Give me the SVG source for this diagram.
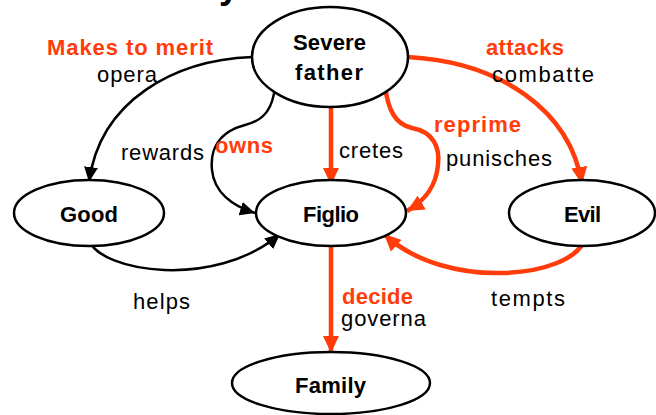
<svg xmlns="http://www.w3.org/2000/svg" width="656" height="415" viewBox="0 0 656 415">
<style>
.node ellipse{fill:#fff;stroke:#000;stroke-width:2.5}
.node text{font-family:"Liberation Sans",Arial,sans-serif;font-weight:bold;font-size:22px;fill:#000}
.lbl{font-family:"Liberation Sans",Arial,sans-serif;font-size:22px;fill:#000}
.rl{font-family:"Liberation Sans",Arial,sans-serif;font-size:22px;font-weight:bold;fill:#FF3C0A}
.bk{fill:none;stroke:#000;stroke-width:2.5}
.rd{fill:none;stroke:#FF3C0A;stroke-width:4.5}
</style>
<defs>
<marker id="ab" markerUnits="userSpaceOnUse" markerWidth="16" markerHeight="14" refX="15" refY="7" orient="auto">
<path d="M0,0 L15,7 L0,14 z" fill="#000"/>
</marker>
<marker id="ar" markerUnits="userSpaceOnUse" markerWidth="18" markerHeight="16" refX="17" refY="8" orient="auto">
<path d="M0,0 L17,8 L0,16 z" fill="#FF3C0A"/>
</marker>
</defs>
<rect width="656" height="415" fill="#fff"/>
<text x="219" y="-2" font-family="Liberation Sans,Arial,sans-serif" font-weight="bold" font-size="36">y</text>
<g id="connectors">
<path class="bk" d="M252,57 C175,60 100,100 89,182" marker-end="url(#ab)"/>
<path class="bk" d="M275,86 C273,108 265,120 245,125 C218,132 210,150 212,170 C214,192 232,206 255,213" marker-end="url(#ab)"/>
<path class="bk" d="M89,240 C100,272 215,290 280,234" marker-end="url(#ab)"/>
<path class="rd" d="M331,106 L331,185" marker-end="url(#ar)"/>
<path class="rd" d="M385,86 C388,110 395,124 412,128 C434,132 440,148 438,165 C436,186 426,200 407,211" marker-end="url(#ar)"/>
<path class="rd" d="M408,57 C500,62 570,110 582,184" marker-end="url(#ar)"/>
<path class="rd" d="M584,240 C572,278 445,292 384,234" marker-end="url(#ar)"/>
<path class="rd" d="M331,246 L331,353" marker-end="url(#ar)"/>
</g>
<g id="labels">
<text class="rl" x="47" y="55" textLength="166">Makes to merit</text>
<text class="lbl" x="97" y="82" textLength="60">opera</text>
<text class="lbl" x="121" y="160" textLength="83">rewards</text>
<text class="rl" x="215" y="153" textLength="58">owns</text>
<text class="lbl" x="339" y="158" textLength="64">cretes</text>
<text class="rl" x="434" y="132" textLength="87">reprime</text>
<text class="lbl" x="446" y="166" textLength="106">punisches</text>
<text class="rl" x="486" y="55" textLength="78">attacks</text>
<text class="lbl" x="492" y="82" textLength="102">combatte</text>
<text class="lbl" x="133" y="309" textLength="57">helps</text>
<text class="rl" x="342" y="304" textLength="71">decide</text>
<text class="lbl" x="341" y="326" textLength="85">governa</text>
<text class="lbl" x="491" y="306" textLength="74">tempts</text>
</g>
<g id="node-father" class="node">
<ellipse cx="330" cy="57" rx="78" ry="50"/>
<text x="293" y="50" textLength="73">Severe</text>
<text x="295" y="80" textLength="68">father</text>
</g>
<g id="node-good" class="node">
<ellipse cx="89" cy="213" rx="75" ry="33"/>
<text x="60" y="222" textLength="58">Good</text>
</g>
<g id="node-figlio" class="node">
<ellipse cx="331" cy="213" rx="75" ry="33"/>
<text x="303" y="222" textLength="56">Figlio</text>
</g>
<g id="node-evil" class="node">
<ellipse cx="582" cy="213" rx="73" ry="33"/>
<text x="564" y="222" textLength="37">Evil</text>
</g>
<g id="node-family" class="node">
<ellipse cx="331" cy="383" rx="99" ry="31"/>
<text x="295" y="393" textLength="71">Family</text>
</g>
</svg>
